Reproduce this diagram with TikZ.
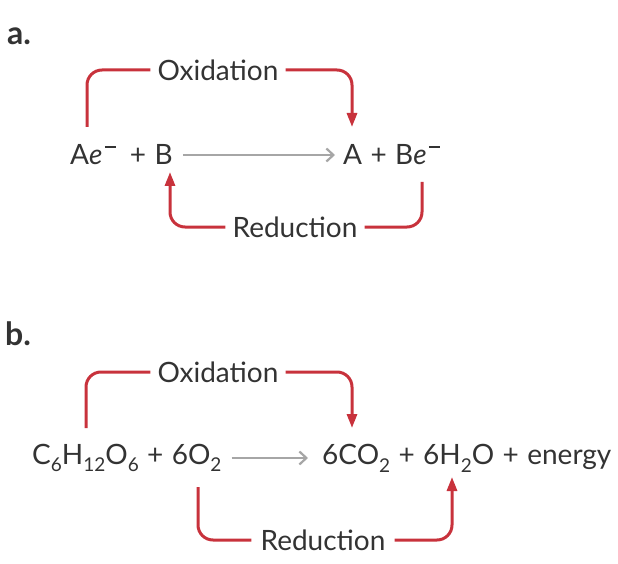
\documentclass[tikz,border=0pt]{standalone}
\usepackage{fontspec}
\setmainfont{Lato}
\usetikzlibrary{arrows.meta}
\definecolor{redoxred}{HTML}{C8323C}
\definecolor{txtgray}{HTML}{333333}
\newcommand{\plus}{\hspace{0.3em}+\hspace{0.3em}}
\newcommand{\sub}[1]{\raisebox{-0.28em}{\fontsize{19}{20}\selectfont #1}}
\newcommand{\elec}{\textit{e}\hspace{0.08em}\rule[0.62em]{0.4em}{0.05em}}
\tikzset{
	chem/.style={font=\fontsize{28}{32}\selectfont, text=txtgray, inner sep=0pt},
	tag/.style={font=\fontsize{32}{34}\selectfont\bfseries, text=txtgray, inner sep=0pt},
	redox/.style={redoxred, line width=3pt, rounded corners=15pt},
	redtip/.style={-{Triangle[width=10pt,length=14pt]}},
	react/.style={gray!70, line width=2.2pt, -{Straight Barb[length=7pt,width=13pt]}}
}
\begin{document}
\begin{tikzpicture}[x=1pt,y=-1pt]
	\useasboundingbox (0,0) rectangle (618,564);
	% a.
	\node[tag] (taga) at (19,36) {a.};
	\node[chem, anchor=west] (reacta) at (70,155) {A\elec\hspace{0.2em}\plus B};
	\node[chem, anchor=west] (proda) at (343,155) {A\plus B\elec};
	\node[chem] (oxa) at (218,70) {Oxidation};
	\node[chem] (reda) at (295,227) {Reduction};
	\coordinate (oxa1) at (87,127);
	\coordinate (oxa2) at (352,127);
	\coordinate (reda1) at (422,182);
	\coordinate (reda2) at (170,172);
	\draw[react] ([xshift=10pt]reacta.east) -- ([xshift=-8pt]proda.west);
	\draw[redox] (oxa1) |- ([xshift=-7pt]oxa.west);
	\draw[redox,redtip] ([xshift=7pt]oxa.east) -| (oxa2);
	\draw[redox] (reda1) |- ([xshift=7pt]reda.east);
	\draw[redox,redtip] ([xshift=-7pt]reda.west) -| (reda2);
	% b.
	\node[tag] (tagb) at (18,334) {b.};
	\node[chem, anchor=west] (reactb) at (32,458) {C\sub{6}H\sub{12}O\sub{6}\plus 6O\sub{2}};
	\node[chem, anchor=west] (prodb) at (322,458) {6CO\sub{2}\plus 6H\sub{2}O\plus energy};
	\node[chem] (oxb) at (218,372) {Oxidation};
	\node[chem] (redb) at (323,540) {Reduction};
	\coordinate (oxb1) at (86,428);
	\coordinate (oxb2) at (352,428);
	\coordinate (redb1) at (198,487);
	\coordinate (redb2) at (452,477);
	\draw[react] ([xshift=10pt]reactb.east) -- ([xshift=-14pt]prodb.west);
	\draw[redox] (oxb1) |- ([xshift=-7pt]oxb.west);
	\draw[redox,redtip] ([xshift=7pt]oxb.east) -| (oxb2);
	\draw[redox] (redb1) |- ([xshift=-9pt]redb.west);
	\draw[redox,redtip] ([xshift=9pt]redb.east) -| (redb2);
\end{tikzpicture}
\end{document}
